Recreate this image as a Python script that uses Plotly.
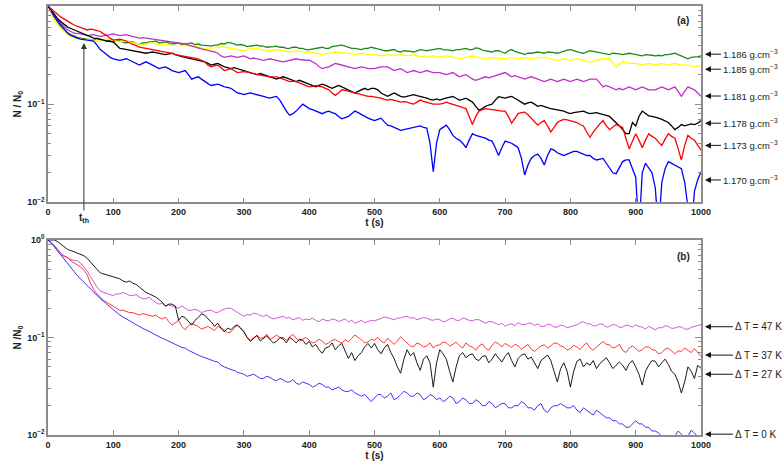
import math
import plotly.graph_objects as go

# sampling times (s), one value every 5 s
t = list(range(0, 1001, 5))

# panel (a): N/N0 for each solution density
rho_labels = ["1.186", "1.185", "1.181", "1.178", "1.173", "1.170"]
rho_colors = ["#1a8c1a", "#ffff00", "#c030c8", "#000000", "#ff0000", "#0000ff"]

n_1186 = [1.0, 0.87, 0.77, 0.68, 0.61, 0.56, 0.53, 0.51, 0.49, 0.48, 0.47, 0.465, 0.46, 0.455, 0.45, 0.47, 0.46, 0.45, 0.44, 0.445,
          0.43, 0.445, 0.44, 0.425, 0.42, 0.435, 0.43, 0.415, 0.41, 0.42, 0.42, 0.43, 0.43, 0.44, 0.42, 0.425, 0.43, 0.42, 0.41, 0.415,
          0.42, 0.405, 0.41, 0.42, 0.42, 0.405, 0.41, 0.40, 0.40, 0.395, 0.39, 0.40, 0.40, 0.415, 0.41, 0.425, 0.42, 0.41, 0.40, 0.405,
          0.40, 0.385, 0.39, 0.40, 0.40, 0.39, 0.39, 0.38, 0.38, 0.385, 0.39, 0.38, 0.38, 0.37, 0.37, 0.38, 0.38, 0.37, 0.37, 0.36,
          0.36, 0.365, 0.37, 0.38, 0.38, 0.37, 0.37, 0.385, 0.39, 0.395, 0.40, 0.39, 0.38, 0.37, 0.37, 0.365, 0.36, 0.37, 0.37, 0.38,
          0.37, 0.365, 0.36, 0.35, 0.35, 0.355, 0.36, 0.345, 0.34, 0.35, 0.35, 0.345, 0.34, 0.35, 0.36, 0.355, 0.35, 0.355, 0.36, 0.365,
          0.37, 0.36, 0.36, 0.355, 0.35, 0.36, 0.36, 0.365, 0.37, 0.36, 0.36, 0.375, 0.37, 0.355, 0.35, 0.345, 0.34, 0.35, 0.35, 0.34,
          0.33, 0.35, 0.36, 0.345, 0.34, 0.33, 0.32, 0.33, 0.33, 0.335, 0.34, 0.335, 0.33, 0.34, 0.34, 0.335, 0.33, 0.34, 0.35, 0.355,
          0.36, 0.35, 0.34, 0.335, 0.33, 0.34, 0.35, 0.345, 0.34, 0.335, 0.33, 0.325, 0.32, 0.33, 0.33, 0.325, 0.32, 0.325, 0.33, 0.325,
          0.32, 0.315, 0.31, 0.32, 0.32, 0.315, 0.31, 0.315, 0.31, 0.32, 0.32, 0.325, 0.33, 0.32, 0.31, 0.30, 0.29, 0.30, 0.30, 0.305, 0.31]
n_1185 = [1.0, 0.84, 0.71, 0.64, 0.59, 0.55, 0.51, 0.49, 0.47, 0.465, 0.46, 0.455, 0.46, 0.45, 0.45, 0.44, 0.44, 0.45, 0.46, 0.455,
          0.45, 0.44, 0.43, 0.435, 0.44, 0.43, 0.42, 0.415, 0.41, 0.405, 0.41, 0.42, 0.42, 0.41, 0.40, 0.41, 0.41, 0.405, 0.40, 0.40,
          0.40, 0.395, 0.39, 0.395, 0.40, 0.39, 0.38, 0.375, 0.37, 0.37, 0.37, 0.375, 0.38, 0.385, 0.38, 0.375, 0.37, 0.365, 0.36, 0.355,
          0.35, 0.36, 0.37, 0.365, 0.37, 0.36, 0.36, 0.355, 0.35, 0.355, 0.36, 0.355, 0.35, 0.345, 0.34, 0.345, 0.35, 0.345, 0.34, 0.34,
          0.34, 0.335, 0.33, 0.325, 0.32, 0.325, 0.33, 0.335, 0.34, 0.335, 0.33, 0.335, 0.33, 0.325, 0.32, 0.325, 0.33, 0.325, 0.32, 0.32,
          0.32, 0.315, 0.31, 0.315, 0.32, 0.315, 0.31, 0.315, 0.32, 0.315, 0.31, 0.315, 0.32, 0.31, 0.31, 0.305, 0.30, 0.305, 0.31, 0.305,
          0.30, 0.305, 0.31, 0.305, 0.30, 0.295, 0.29, 0.295, 0.30, 0.305, 0.31, 0.305, 0.30, 0.295, 0.29, 0.295, 0.30, 0.295, 0.29, 0.29,
          0.29, 0.295, 0.30, 0.295, 0.29, 0.295, 0.30, 0.295, 0.29, 0.295, 0.30, 0.30, 0.30, 0.295, 0.29, 0.285, 0.28, 0.285, 0.29, 0.285,
          0.28, 0.285, 0.29, 0.285, 0.28, 0.275, 0.27, 0.275, 0.28, 0.285, 0.29, 0.29, 0.29, 0.26, 0.24, 0.255, 0.27, 0.265, 0.26, 0.26,
          0.26, 0.255, 0.25, 0.255, 0.26, 0.255, 0.25, 0.255, 0.26, 0.255, 0.25, 0.255, 0.26, 0.255, 0.25, 0.25, 0.25, 0.245, 0.24, 0.245, 0.245]
n_1181 = [1.0, 0.90, 0.80, 0.72, 0.66, 0.61, 0.57, 0.55, 0.53, 0.525, 0.52, 0.51, 0.50, 0.505, 0.51, 0.50, 0.49, 0.495, 0.50, 0.51,
          0.52, 0.51, 0.50, 0.505, 0.51, 0.50, 0.49, 0.48, 0.47, 0.475, 0.47, 0.465, 0.46, 0.455, 0.45, 0.445, 0.44, 0.435, 0.43, 0.425,
          0.42, 0.415, 0.41, 0.40, 0.39, 0.38, 0.37, 0.365, 0.36, 0.355, 0.35, 0.34, 0.33, 0.31, 0.30, 0.305, 0.31, 0.305, 0.30, 0.305,
          0.31, 0.30, 0.29, 0.295, 0.29, 0.285, 0.28, 0.285, 0.29, 0.285, 0.28, 0.275, 0.27, 0.275, 0.28, 0.285, 0.29, 0.285, 0.28, 0.28,
          0.28, 0.27, 0.26, 0.24, 0.23, 0.235, 0.24, 0.25, 0.26, 0.255, 0.25, 0.245, 0.24, 0.235, 0.23, 0.235, 0.24, 0.235, 0.23, 0.23,
          0.23, 0.235, 0.24, 0.24, 0.24, 0.23, 0.22, 0.225, 0.23, 0.22, 0.21, 0.215, 0.22, 0.215, 0.21, 0.215, 0.22, 0.215, 0.21, 0.21,
          0.21, 0.205, 0.20, 0.205, 0.21, 0.20, 0.19, 0.195, 0.20, 0.19, 0.18, 0.175, 0.18, 0.185, 0.19, 0.185, 0.19, 0.195, 0.20, 0.205,
          0.21, 0.20, 0.19, 0.195, 0.19, 0.185, 0.18, 0.185, 0.19, 0.185, 0.18, 0.175, 0.17, 0.175, 0.18, 0.175, 0.17, 0.175, 0.18, 0.175,
          0.17, 0.175, 0.18, 0.175, 0.17, 0.175, 0.18, 0.18, 0.18, 0.165, 0.15, 0.155, 0.15, 0.145, 0.14, 0.145, 0.14, 0.145, 0.15, 0.145,
          0.14, 0.145, 0.15, 0.145, 0.14, 0.14, 0.14, 0.145, 0.15, 0.145, 0.14, 0.145, 0.15, 0.135, 0.12, 0.135, 0.15, 0.145, 0.14, 0.13, 0.12]
n_1178 = [1.0, 0.90, 0.80, 0.74, 0.69, 0.65, 0.61, 0.59, 0.57, 0.555, 0.54, 0.52, 0.50, 0.48, 0.47, 0.465, 0.46, 0.45, 0.44, 0.435,
          0.43, 0.40, 0.37, 0.365, 0.36, 0.355, 0.35, 0.345, 0.34, 0.335, 0.33, 0.335, 0.34, 0.335, 0.33, 0.325, 0.32, 0.325, 0.33, 0.32,
          0.31, 0.305, 0.30, 0.295, 0.29, 0.285, 0.28, 0.275, 0.27, 0.26, 0.25, 0.255, 0.26, 0.25, 0.24, 0.235, 0.23, 0.235, 0.23, 0.225,
          0.22, 0.215, 0.21, 0.205, 0.20, 0.205, 0.20, 0.195, 0.19, 0.185, 0.18, 0.185, 0.19, 0.185, 0.18, 0.175, 0.17, 0.175, 0.17, 0.165,
          0.16, 0.155, 0.15, 0.155, 0.16, 0.155, 0.15, 0.145, 0.15, 0.155, 0.15, 0.145, 0.14, 0.135, 0.13, 0.135, 0.14, 0.145, 0.14, 0.145,
          0.145, 0.14, 0.13, 0.125, 0.12, 0.125, 0.13, 0.125, 0.12, 0.118, 0.12, 0.123, 0.125, 0.122, 0.12, 0.118, 0.115, 0.112, 0.11, 0.113,
          0.11, 0.113, 0.115, 0.118, 0.12, 0.115, 0.11, 0.112, 0.115, 0.11, 0.105, 0.095, 0.087, 0.09, 0.095, 0.098, 0.10, 0.11, 0.119, 0.117,
          0.115, 0.118, 0.12, 0.115, 0.11, 0.105, 0.10, 0.103, 0.105, 0.10, 0.095, 0.097, 0.094, 0.092, 0.09, 0.089, 0.088, 0.087, 0.085, 0.082,
          0.08, 0.082, 0.083, 0.084, 0.085, 0.082, 0.08, 0.081, 0.082, 0.08, 0.079, 0.077, 0.075, 0.07, 0.064, 0.06, 0.055, 0.05, 0.05, 0.065,
          0.06, 0.075, 0.085, 0.08, 0.076, 0.075, 0.074, 0.072, 0.07, 0.067, 0.065, 0.06, 0.055, 0.058, 0.062, 0.06, 0.061, 0.063, 0.062, 0.064, 0.068]
n_1173 = [1.0, 0.93, 0.87, 0.82, 0.77, 0.73, 0.70, 0.67, 0.64, 0.62, 0.60, 0.58, 0.57, 0.58, 0.575, 0.56, 0.55, 0.52, 0.50, 0.47,
          0.45, 0.455, 0.46, 0.45, 0.44, 0.42, 0.41, 0.395, 0.38, 0.375, 0.37, 0.365, 0.36, 0.355, 0.35, 0.345, 0.34, 0.335, 0.33, 0.32,
          0.315, 0.31, 0.31, 0.305, 0.30, 0.295, 0.29, 0.28, 0.27, 0.25, 0.24, 0.245, 0.25, 0.235, 0.22, 0.225, 0.23, 0.22, 0.21, 0.212,
          0.215, 0.212, 0.21, 0.205, 0.20, 0.197, 0.195, 0.192, 0.19, 0.19, 0.19, 0.185, 0.18, 0.175, 0.17, 0.172, 0.17, 0.165, 0.16, 0.155,
          0.15, 0.152, 0.155, 0.152, 0.15, 0.145, 0.14, 0.13, 0.123, 0.13, 0.14, 0.138, 0.135, 0.132, 0.13, 0.128, 0.125, 0.122, 0.12, 0.12,
          0.119, 0.117, 0.115, 0.112, 0.11, 0.112, 0.11, 0.107, 0.105, 0.106, 0.105, 0.102, 0.10, 0.105, 0.11, 0.107, 0.105, 0.102, 0.10, 0.10,
          0.10, 0.102, 0.105, 0.102, 0.10, 0.097, 0.095, 0.092, 0.09, 0.075, 0.062, 0.075, 0.085, 0.088, 0.09, 0.089, 0.088, 0.086, 0.085, 0.085,
          0.085, 0.075, 0.064, 0.072, 0.08, 0.082, 0.083, 0.078, 0.072, 0.066, 0.061, 0.065, 0.068, 0.06, 0.052, 0.058, 0.065, 0.068, 0.07, 0.069,
          0.068, 0.067, 0.065, 0.062, 0.06, 0.052, 0.046, 0.052, 0.058, 0.063, 0.068, 0.06, 0.055, 0.058, 0.062, 0.06, 0.058, 0.045, 0.035, 0.042,
          0.05, 0.043, 0.036, 0.043, 0.05, 0.047, 0.045, 0.041, 0.038, 0.044, 0.05, 0.047, 0.045, 0.035, 0.027, 0.038, 0.048, 0.045, 0.043, 0.038, 0.034]
n_1170 = [1.0, 0.87, 0.77, 0.70, 0.64, 0.58, 0.53, 0.50, 0.48, 0.47, 0.46, 0.455, 0.45, 0.445, 0.44, 0.40, 0.36, 0.34, 0.32, 0.30,
          0.29, 0.285, 0.28, 0.285, 0.29, 0.28, 0.27, 0.26, 0.25, 0.26, 0.27, 0.26, 0.25, 0.24, 0.23, 0.235, 0.24, 0.23, 0.22, 0.215,
          0.21, 0.215, 0.22, 0.20, 0.18, 0.185, 0.19, 0.18, 0.17, 0.162, 0.155, 0.158, 0.16, 0.155, 0.15, 0.148, 0.145, 0.138, 0.13, 0.128,
          0.125, 0.128, 0.13, 0.127, 0.125, 0.122, 0.12, 0.117, 0.115, 0.118, 0.12, 0.11, 0.095, 0.085, 0.077, 0.08, 0.085, 0.092, 0.10, 0.095,
          0.09, 0.088, 0.085, 0.082, 0.08, 0.083, 0.085, 0.082, 0.08, 0.075, 0.071, 0.073, 0.075, 0.08, 0.085, 0.082, 0.078, 0.075, 0.072, 0.07,
          0.068, 0.07, 0.072, 0.066, 0.061, 0.06, 0.058, 0.056, 0.054, 0.055, 0.056, 0.057, 0.058, 0.059, 0.06, 0.058, 0.057, 0.04, 0.0205, 0.04,
          0.055, 0.058, 0.061, 0.055, 0.048, 0.045, 0.043, 0.04, 0.036, 0.043, 0.05, 0.048, 0.047, 0.046, 0.045, 0.043, 0.042, 0.036, 0.03, 0.036,
          0.042, 0.041, 0.040, 0.038, 0.036, 0.028, 0.019, 0.024, 0.028, 0.03, 0.031, 0.028, 0.024, 0.03, 0.035, 0.034, 0.032, 0.031, 0.03, 0.031,
          0.032, 0.033, 0.033, 0.032, 0.031, 0.03, 0.030, 0.028, 0.027, 0.0275, 0.028, 0.025, 0.022, 0.02, 0.0196, 0.023, 0.026, 0.027, 0.027, 0.022,
          0.018, 0.005, 0.02, 0.025, 0.022, 0.02, 0.014, 0.005, 0.016, 0.022, 0.026, 0.025, 0.024, 0.023, 0.022, 0.016, 0.008, 0.005, 0.013, 0.017, 0.0205]
rho_end = [0.323, 0.227, 0.121, 0.064, 0.038, 0.0169]

# panel (b): N/N0 for each temperature step
dt_labels = ["47", "37", "27", "0"]
dt_colors = ["#cc44d4", "#ff2020", "#000000", "#2020ff"]

n_47 = [1.0, 0.95, 0.88, 0.80, 0.73, 0.69, 0.66, 0.63, 0.62, 0.61, 0.58, 0.53, 0.48, 0.42, 0.37, 0.33, 0.30, 0.29, 0.28, 0.275,
        0.27, 0.28, 0.28, 0.29, 0.28, 0.27, 0.27, 0.275, 0.26, 0.25, 0.25, 0.26, 0.24, 0.23, 0.22, 0.225, 0.21, 0.215, 0.21, 0.205,
        0.20, 0.21, 0.20, 0.19, 0.19, 0.195, 0.19, 0.18, 0.185, 0.19, 0.19, 0.182, 0.18, 0.19, 0.195, 0.20, 0.20, 0.19, 0.18, 0.17,
        0.165, 0.172, 0.17, 0.178, 0.175, 0.168, 0.165, 0.17, 0.16, 0.155, 0.158, 0.163, 0.165, 0.158, 0.16, 0.152, 0.155, 0.16, 0.15, 0.155,
        0.152, 0.158, 0.15, 0.145, 0.155, 0.15, 0.148, 0.155, 0.152, 0.146, 0.15, 0.155, 0.145, 0.15, 0.14, 0.145, 0.15, 0.142, 0.145, 0.15,
        0.148, 0.152, 0.155, 0.162, 0.16, 0.155, 0.152, 0.158, 0.158, 0.163, 0.165, 0.158, 0.16, 0.152, 0.155, 0.16, 0.158, 0.152, 0.15, 0.155,
        0.152, 0.145, 0.148, 0.155, 0.158, 0.15, 0.15, 0.158, 0.155, 0.15, 0.148, 0.153, 0.152, 0.145, 0.14, 0.146, 0.145, 0.14, 0.135, 0.14,
        0.13, 0.136, 0.138, 0.132, 0.142, 0.136, 0.135, 0.14, 0.14, 0.133, 0.138, 0.13, 0.13, 0.137, 0.135, 0.128, 0.128, 0.134, 0.132, 0.126,
        0.128, 0.132, 0.135, 0.142, 0.145, 0.138, 0.138, 0.132, 0.132, 0.138, 0.136, 0.128, 0.13, 0.136, 0.134, 0.127, 0.128, 0.134, 0.132, 0.128,
        0.135, 0.13, 0.128, 0.122, 0.13, 0.124, 0.12, 0.126, 0.126, 0.132, 0.13, 0.124, 0.125, 0.129, 0.128, 0.122, 0.122, 0.127, 0.13, 0.133, 0.136]
n_37 = [1.0, 0.93, 0.86, 0.77, 0.70, 0.68, 0.66, 0.61, 0.58, 0.56, 0.53, 0.49, 0.44, 0.36, 0.31, 0.28, 0.26, 0.24, 0.23, 0.22,
        0.21, 0.20, 0.19, 0.19, 0.185, 0.18, 0.18, 0.175, 0.17, 0.176, 0.172, 0.168, 0.165, 0.17, 0.16, 0.155, 0.162, 0.145, 0.134, 0.142,
        0.15, 0.13, 0.12, 0.132, 0.14, 0.135, 0.13, 0.122, 0.125, 0.13, 0.124, 0.118, 0.13, 0.125, 0.12, 0.112, 0.114, 0.125, 0.134, 0.125,
        0.115, 0.1, 0.094, 0.1, 0.105, 0.098, 0.10, 0.108, 0.095, 0.1, 0.106, 0.1, 0.10, 0.094, 0.102, 0.108, 0.098, 0.092, 0.096, 0.1,
        0.094, 0.088, 0.09, 0.096, 0.092, 0.085, 0.088, 0.094, 0.095, 0.09, 0.087, 0.095, 0.09, 0.098, 0.106, 0.1, 0.095, 0.088, 0.09, 0.096,
        0.094, 0.1, 0.092, 0.088, 0.098, 0.092, 0.085, 0.092, 0.102, 0.094, 0.088, 0.082, 0.08, 0.088, 0.085, 0.08, 0.082, 0.088, 0.078, 0.083,
        0.084, 0.09, 0.088, 0.082, 0.085, 0.09, 0.083, 0.078, 0.088, 0.082, 0.08, 0.074, 0.082, 0.086, 0.078, 0.074, 0.083, 0.09, 0.086, 0.08,
        0.087, 0.082, 0.079, 0.085, 0.082, 0.076, 0.08, 0.085, 0.076, 0.072, 0.077, 0.082, 0.084, 0.078, 0.082, 0.088, 0.087, 0.082, 0.08, 0.074,
        0.077, 0.083, 0.08, 0.075, 0.083, 0.088, 0.078, 0.074, 0.08, 0.086, 0.091, 0.085, 0.084, 0.078, 0.08, 0.085, 0.074, 0.07, 0.078, 0.082,
        0.077, 0.072, 0.075, 0.08, 0.08, 0.075, 0.074, 0.068, 0.07, 0.076, 0.078, 0.072, 0.068, 0.073, 0.072, 0.078, 0.074, 0.07, 0.077, 0.071, 0.064]
n_27 = [1.0, 1.0, 1.0, 0.96, 0.90, 0.85, 0.80, 0.78, 0.76, 0.74, 0.72, 0.69, 0.65, 0.60, 0.55, 0.50, 0.46, 0.45, 0.44, 0.43,
        0.42, 0.41, 0.40, 0.38, 0.37, 0.38, 0.36, 0.35, 0.33, 0.31, 0.29, 0.28, 0.27, 0.26, 0.245, 0.23, 0.21, 0.22, 0.22, 0.21,
        0.15, 0.165, 0.16, 0.145, 0.134, 0.15, 0.16, 0.175, 0.17, 0.155, 0.145, 0.13, 0.14, 0.125, 0.114, 0.125, 0.12, 0.13, 0.134, 0.125,
        0.114, 0.1, 0.091, 0.098, 0.105, 0.092, 0.098, 0.104, 0.095, 0.088, 0.091, 0.1, 0.097, 0.088, 0.10, 0.095, 0.088, 0.096, 0.094, 0.085,
        0.091, 0.08, 0.085, 0.075, 0.069, 0.078, 0.08, 0.088, 0.075, 0.082, 0.087, 0.072, 0.061, 0.07, 0.058, 0.065, 0.07, 0.08, 0.087, 0.078,
        0.087, 0.075, 0.068, 0.078, 0.085, 0.07, 0.061, 0.05, 0.043, 0.06, 0.075, 0.065, 0.07, 0.055, 0.046, 0.06, 0.065, 0.055, 0.031, 0.055,
        0.075, 0.068, 0.06, 0.045, 0.035, 0.05, 0.065, 0.07, 0.062, 0.066, 0.068, 0.06, 0.058, 0.064, 0.065, 0.055, 0.06, 0.068, 0.062, 0.056,
        0.064, 0.07, 0.058, 0.05, 0.061, 0.066, 0.068, 0.06, 0.063, 0.055, 0.048, 0.058, 0.062, 0.066, 0.058, 0.045, 0.035, 0.048, 0.055, 0.045,
        0.031, 0.045, 0.057, 0.06, 0.05, 0.055, 0.052, 0.058, 0.048, 0.054, 0.058, 0.062, 0.055, 0.048, 0.052, 0.056, 0.052, 0.046, 0.054, 0.058,
        0.05, 0.042, 0.0325, 0.045, 0.052, 0.058, 0.057, 0.05, 0.055, 0.06, 0.053, 0.045, 0.042, 0.035, 0.027, 0.035, 0.05, 0.045, 0.038, 0.052, 0.048]
n_0 = [1.0, 0.93, 0.85, 0.77, 0.70, 0.64, 0.58, 0.52, 0.47, 0.43, 0.40, 0.37, 0.34, 0.31, 0.29, 0.27, 0.25, 0.235, 0.22, 0.205,
       0.19, 0.18, 0.17, 0.162, 0.155, 0.147, 0.14, 0.135, 0.13, 0.124, 0.12, 0.115, 0.11, 0.106, 0.102, 0.098, 0.095, 0.092, 0.088, 0.086,
       0.082, 0.079, 0.078, 0.074, 0.071, 0.069, 0.066, 0.064, 0.062, 0.06, 0.058, 0.057, 0.056, 0.052, 0.05, 0.048, 0.047, 0.046, 0.044, 0.043,
       0.042, 0.040, 0.041, 0.042, 0.040, 0.038, 0.038, 0.040, 0.039, 0.037, 0.036, 0.038, 0.037, 0.035, 0.035, 0.037, 0.034, 0.033, 0.035, 0.034,
       0.033, 0.031, 0.032, 0.034, 0.033, 0.031, 0.031, 0.029, 0.030, 0.031, 0.029, 0.028, 0.028, 0.029, 0.027, 0.026, 0.025, 0.026, 0.024, 0.022,
       0.024, 0.026, 0.026, 0.024, 0.025, 0.027, 0.023, 0.024, 0.026, 0.028, 0.027, 0.025, 0.025, 0.027, 0.026, 0.023, 0.024, 0.026, 0.025, 0.023,
       0.024, 0.022, 0.023, 0.025, 0.024, 0.021, 0.022, 0.024, 0.023, 0.021, 0.021, 0.023, 0.022, 0.020, 0.020, 0.022, 0.021, 0.019, 0.020, 0.021,
       0.021, 0.019, 0.019, 0.020, 0.020, 0.022, 0.021, 0.019, 0.019, 0.018, 0.020, 0.021, 0.018, 0.017, 0.019, 0.020, 0.020, 0.021, 0.020, 0.019,
       0.019, 0.020, 0.018, 0.017, 0.019, 0.018, 0.017, 0.016, 0.018, 0.017, 0.016, 0.015, 0.015, 0.014, 0.014, 0.013, 0.013, 0.012, 0.012, 0.013,
       0.014, 0.013, 0.013, 0.012, 0.012, 0.011, 0.011, 0.0105, 0.0095, 0.0088, 0.010, 0.0092, 0.0098, 0.011, 0.0102, 0.0094, 0.0097, 0.0112, 0.0105, 0.0096, 0.0099]
dt_end = [0.129, 0.066, 0.042, 0.0102]

t_th = 55
n_th = 0.42

for s in (n_1186, n_1185, n_1181, n_1178, n_1173, n_1170, n_47, n_37, n_27, n_0):
    assert len(s) == len(t), len(s)

font = "Liberation Sans, Arial, sans-serif"
grey = "#8c8c8c"

fig = go.Figure()

for name, col, vals in zip(rho_labels, rho_colors, [n_1186, n_1185, n_1181, n_1178, n_1173, n_1170]):
    fig.add_trace(go.Scatter(x=t, y=vals, mode="lines", name=name,
                             line=dict(color=col, width=1.3), xaxis="x", yaxis="y"))

for name, col, vals in zip(dt_labels, dt_colors, [n_47, n_37, n_27, n_0]):
    fig.add_trace(go.Scatter(x=t, y=vals, mode="lines", name=name,
                             line=dict(color=col, width=0.9), xaxis="x2", yaxis="y2"))

minor_vals = [m * 10 ** e for e in (-2, -1) for m in range(2, 10)]

xstyle = dict(range=[0, 1000], dtick=100, ticks="inside", ticklen=5, tickcolor=grey,
              showline=True, linecolor=grey, linewidth=1.5, mirror="ticks", showgrid=False,
              zeroline=False, automargin=False,
              tickfont=dict(family=font, size=9, color="#222", weight="bold"))
ystyle = dict(type="log", range=[-2, 0], tickvals=[0.01, 0.1, 1],
              ticktext=["10<sup>−2</sup>", "10<sup>−1</sup>", "10<sup>0</sup>"],
              ticks="inside", ticklen=6, tickcolor=grey, showline=True, linecolor=grey,
              linewidth=1.5, mirror="ticks", showgrid=False, zeroline=False, automargin=False,
              minor=dict(tickvals=minor_vals, ticks="inside", ticklen=3, tickcolor=grey),
              tickfont=dict(family=font, size=9, color="#222", weight="bold"))

title_x = dict(text="t (s)", font=dict(family=font, size=10, color="#222", weight="bold"), standoff=0)

fig.update_layout(
    width=782, height=464,
    margin=dict(l=48, r=81, t=6, b=29),
    paper_bgcolor="white", plot_bgcolor="white",
    showlegend=False,
    xaxis=dict(xstyle, domain=[0, 1], anchor="y", title=title_x),
    yaxis=dict(ystyle, domain=[0.5424, 1], anchor="x",
               title=dict(text="N / N<sub>0</sub>", standoff=4,
                          font=dict(family=font, size=10, color="#222", weight="bold"))),
    xaxis2=dict(xstyle, domain=[0, 1], anchor="y2", title=title_x),
    yaxis2=dict(ystyle, domain=[0, 0.4545], anchor="x2",
                title=dict(text="N /N<sub>0</sub>", standoff=4,
                           font=dict(family=font, size=10, color="#222", weight="bold"))),
)

lab_font = dict(family=font, size=10, color="#222")

# right-hand labels: arrow head just outside the frame, text after the tail
for name, v in zip(rho_labels, rho_end):
    fig.add_annotation(x=1.006, y=math.log10(v), xref="paper", yref="y",
                       text=name + " g.cm<sup>−3</sup>", showarrow=True,
                       ax=16, ay=0, xanchor="left", arrowhead=2, arrowsize=1.2,
                       arrowwidth=1, arrowcolor="#111",
                       font=dict(family=font, size=9.5, color="#222"))

for name, v in zip(dt_labels, dt_end):
    fig.add_annotation(x=1.006, y=math.log10(v), xref="paper", yref="y2",
                       text="Δ T = " + name + " K", showarrow=True,
                       ax=28, ay=0, xanchor="left", arrowhead=2, arrowsize=1.2,
                       arrowwidth=1, arrowcolor="#111", font=lab_font)

fig.add_annotation(x=t_th, y=math.log10(n_th), xref="x", yref="y",
                   text="t<sub>th</sub>", showarrow=True, ax=0, ay=175,
                   arrowhead=2, arrowsize=1.2, arrowwidth=1, arrowcolor="#333",
                   font=dict(family=font, size=10, color="#222", weight="bold"))

fig.add_annotation(x=973, y=-0.145, xref="x", yref="y", text="(a)", showarrow=False,
                   font=dict(family=font, size=10, color="#222", weight="bold"))
fig.add_annotation(x=973, y=-0.174, xref="x2", yref="y2", text="(b)", showarrow=False,
                   font=dict(family=font, size=10, color="#222", weight="bold"))

# the page's default body margin would shift the figure by 8 px
fig.write_html("out.html", config={"displayModeBar": False},
               post_script="document.body.style.margin='0';")
